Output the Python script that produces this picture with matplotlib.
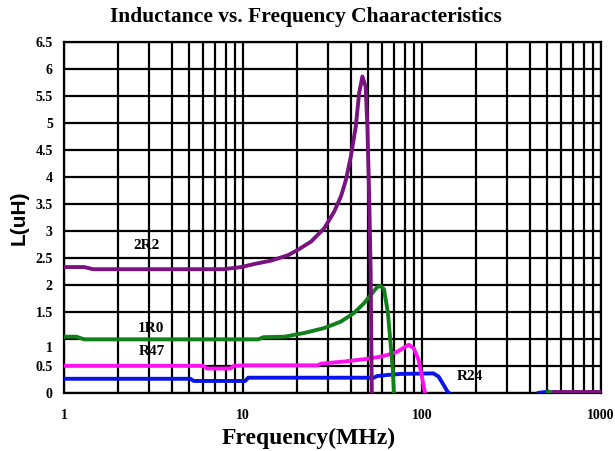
import matplotlib

matplotlib.use("Agg", force=True)
import matplotlib.pyplot as plt
import matplotlib.transforms as mtransforms
import numpy as np

# inductance sweeps per part, frequency in MHz, inductance in uH
f_2r2 = [1, 1.3, 1.45, 7.8, 9.8, 11.7, 14.4, 17.9, 20.3, 24.0, 28.5, 32.4, 35.3,
         37.6, 40.1, 42.7, 44.6, 46.5, 48.5, 49.6, 50.7, 51.7, 52.5]
l_2r2 = [2.33, 2.33, 2.29, 2.29, 2.33, 2.39, 2.45, 2.55, 2.65, 2.80, 3.05, 3.36, 3.64,
         3.94, 4.38, 4.93, 5.55, 5.86, 5.67, 4.93, 3.70, 2.28, 0.0]
f_2r2_hi = [545, 1000]
l_2r2_hi = [0.02, 0.02]

f_1r0 = [1, 1.17, 1.3, 12.2, 13, 17.1, 22.1, 28.5, 35.3, 41.8, 47.5, 51.7, 56.3,
         58.7, 61.4, 64.6, 66.8, 68.8, 69.7]
l_1r0 = [1.04, 1.04, 0.99, 0.99, 1.03, 1.04, 1.11, 1.20, 1.32, 1.48, 1.66, 1.81, 1.96,
         1.98, 1.92, 1.48, 0.92, 0.43, 0.0]
f_1r0_hi = [505, 545]
l_1r0_hi = [0.02, 0.02]

f_r47 = [1, 6.0, 6.3, 8.5, 8.9, 10.3, 26.2, 27.3, 36.8, 49.6, 58.7, 64.0, 72.7,
         84.4, 89.9, 95.9, 100, 104]
l_r47 = [0.50, 0.50, 0.45, 0.45, 0.50, 0.51, 0.51, 0.54, 0.58, 0.63, 0.67, 0.70, 0.76,
         0.89, 0.83, 0.61, 0.30, 0.0]

f_r24 = [1, 5.1, 5.3, 10.3, 10.7, 54.0, 56, 64, 75.8, 116, 124, 132, 138, 141]
l_r24 = [0.26, 0.26, 0.22, 0.22, 0.28, 0.28, 0.31, 0.33, 0.35, 0.36, 0.30, 0.15, 0.04, 0.0]
f_r24_hi = [450, 505]
l_r24_hi = [0.0, 0.02]

part_labels = ["2R2", "1R0", "R47", "R24"]
label_pos = [(2.88, 2.72), (3.07, 1.20), (3.11, 0.76), (185, 0.31)]

x_ticks = [1, 10, 100, 1000]
y_ticks = np.arange(0, 6.51, 0.5)

serif = ["Liberation Serif", "DejaVu Serif"]

fig = plt.figure(figsize=(6.15, 4.51), dpi=100)
ax = fig.add_axes([0.104, 0.129, 0.873, 0.778])

ax.set_xscale("log")
ax.set_xlim(1, 1000)
ax.set_ylim(0, 6.5)

# dense black log grid, drawn under the curves
ax.set_xticks(x_ticks)
ax.set_xticks([m * d for d in (1, 10, 100) for m in range(2, 10)], minor=True)
ax.set_yticks(y_ticks)
ax.grid(True, which="both", color="black", linewidth=1.6)
ax.set_axisbelow(True)
ax.tick_params(which="both", length=0)

for side in ax.spines.values():
    side.set_color("black")
    side.set_linewidth(1.6)

lw = 2.8
ax.plot(f_r24, l_r24, color="#0a14e6", lw=lw, zorder=3)
ax.plot(f_r24_hi, l_r24_hi, color="#0a14e6", lw=lw, zorder=3)
ax.plot(f_r47, l_r47, color="#ff10f0", lw=lw, zorder=3)
ax.plot(f_1r0, l_1r0, color="#12801a", lw=lw, zorder=3)
ax.plot(f_1r0_hi, l_1r0_hi, color="#12801a", lw=lw, zorder=3)
ax.plot(f_2r2, l_2r2, color="#7a1380", lw=lw, zorder=4)
ax.plot(f_2r2_hi, l_2r2_hi, color="#7a1380", lw=lw, zorder=4)

for name, (fx, ly) in zip(part_labels, label_pos):
    ax.text(fx, ly, name, ha="center", va="center", fontsize=11,
            fontweight="bold", family=serif, zorder=5)

ax.set_xticklabels([str(v) for v in x_ticks], fontsize=10, fontweight="bold", family=serif)
ax.set_yticklabels([f"{v:g}" for v in y_ticks], fontsize=10, fontweight="bold", family=serif)
ax.tick_params(axis="x", pad=12)
ax.tick_params(axis="y", pad=8)

# the "1" label sits a little below its gridline
for lab in ax.get_yticklabels():
    if lab.get_text() == "1":
        lab.set_transform(lab.get_transform() + mtransforms.ScaledTranslation(0, -6 / 72, fig.dpi_scale_trans))

ax.set_xlabel("Frequency(MHz)", fontsize=17, fontweight="bold", family=serif)
ax.xaxis.set_label_coords(0.456, -0.1)
ax.set_ylabel("L(uH)", fontsize=15, fontweight="bold", family=["Liberation Sans", "DejaVu Sans"], labelpad=5)
fig.text(0.497, 0.962, "Inductance vs. Frequency Chaaracteristics", ha="center", va="center",
         fontsize=15.5, fontweight="bold", family=serif)

fig.savefig("out.png", dpi=100, facecolor="white")
plt.close("all")
